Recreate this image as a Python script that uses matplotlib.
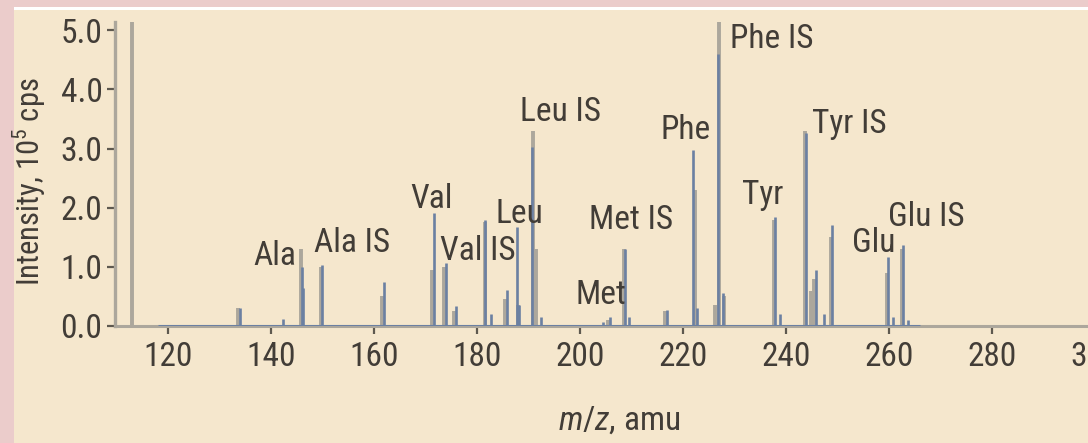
import matplotlib
matplotlib.use("Agg")
import matplotlib.pyplot as plt
from matplotlib import font_manager
from matplotlib.patches import Rectangle

# peak list (m/z, intensity in 10^5 cps)
gray_mz = [113.0, 133.6, 145.8, 149.7, 161.5, 171.3, 173.6, 175.6, 181.5,
           185.5, 187.9, 190.8, 191.4, 205.5, 208.6, 216.5, 222.4, 226.2,
           226.9, 228.0, 237.6, 243.7, 244.9, 245.5, 248.7, 259.7, 262.6]
gray_int = [6.0, 0.30, 1.30, 1.00, 0.50, 0.95, 1.00, 0.25, 1.76,
            0.45, 0.35, 3.29, 1.30, 0.10, 1.30, 0.25, 2.30, 0.35,
            5.30, 0.50, 1.80, 3.30, 0.60, 0.80, 1.50, 0.90, 1.30]

blue_mz = [134.0, 142.3, 146.0, 146.3, 149.9, 161.9, 171.7, 173.9, 175.9,
           181.6, 182.7, 185.8, 187.7, 188.2, 190.7, 192.5, 204.5, 205.8,
           208.7, 209.5, 216.8, 222.0, 222.8, 226.8, 227.8, 237.9, 238.8,
           243.9, 245.8, 247.3, 248.9, 259.9, 260.7, 262.8, 263.6]
blue_int = [0.30, 0.12, 1.00, 0.65, 1.03, 0.75, 1.91, 1.06, 0.33,
            1.79, 0.20, 0.61, 1.68, 0.36, 3.03, 0.15, 0.07, 0.16,
            1.31, 0.15, 0.27, 2.98, 0.30, 4.60, 0.56, 1.85, 0.20,
            3.26, 0.95, 0.20, 1.71, 1.17, 0.15, 1.37, 0.10]
blue_span = [118.0, 266.0]

labels = ["Ala", "Ala IS", "Val", "Val IS", "Leu", "Leu IS", "Met", "Met IS",
          "Phe", "Phe IS", "Tyr", "Tyr IS", "Glu", "Glu IS"]
label_mz = [140.8, 155.7, 171.1, 180.1, 188.3, 196.3, 204.1, 210.0,
            220.6, 237.2, 235.4, 252.3, 257.1, 267.2]
label_int = [1.18, 1.40, 2.14, 1.26, 1.90, 3.61, 0.52, 1.80,
             3.32, 4.85, 2.21, 3.41, 1.40, 1.84]

PINK = "#ebcccb"
CREAM = "#f5e7cd"
GRAY = "#aca79c"
BLUE = "#6b80a2"
TEXT = "#423d37"

# condensed sans, first one that is installed
installed = {f.name for f in font_manager.fontManager.ttflist}
narrow = "DejaVu Sans"
for fam in ["Liberation Sans Narrow", "Arial Narrow", "Roboto Condensed",
            "Archivo Narrow", "PT Sans Narrow", "Asap Condensed", "Open Sans Condensed"]:
    if fam in installed:
        narrow = fam
        break

plt.rcParams['font.family'] = [narrow, 'DejaVu Sans']
plt.rcParams['mathtext.fontset'] = 'custom'
plt.rcParams['mathtext.rm'] = narrow
plt.rcParams['mathtext.it'] = narrow + ':italic'

W, H = 1088, 443
fig = plt.figure(figsize=(W / 100, H / 100), dpi=100, facecolor=PINK)
fig.patches.append(Rectangle((14 / W, 0), 1, (H - 7) / H, transform=fig.transFigure,
                             facecolor="white", edgecolor="none", zorder=-20))
fig.patches.append(Rectangle((14 / W, 0), 1, (H - 10) / H, transform=fig.transFigure,
                             facecolor=CREAM, edgecolor="none", zorder=-10))

# axes runs past the right edge, as in the cropped original
ax = fig.add_axes([115 / W, (H - 326) / H, 1031.5 / W, 304 / H])
ax.set_zorder(1)
ax.set_facecolor("none")
ax.set_xlim(109.7, 310)
ax.set_ylim(0, 5.14)

ax.vlines(gray_mz, 0, gray_int, color=GRAY, linewidth=2.8, zorder=2)
ax.hlines(0, blue_span[0], blue_span[1], color=BLUE, linewidth=2.2, zorder=3)
ax.vlines(blue_mz, 0, blue_int, color=BLUE, linewidth=1.9, zorder=3)

for name, x, y in zip(labels, label_mz, label_int):
    ax.text(x, y, name, ha="center", va="center", fontsize=24, color=TEXT, zorder=4)

for side in ["top", "right"]:
    ax.spines[side].set_visible(False)
ax.spines["left"].set_color(GRAY)
ax.spines["left"].set_linewidth(2.4)
ax.spines["bottom"].set_color(GRAY)
ax.spines["bottom"].set_linewidth(2.2)

ax.set_xticks(range(120, 320, 20))
ax.set_yticks([0, 1, 2, 3, 4, 5])
ax.set_yticklabels([f"{v:.1f}" for v in [0, 1, 2, 3, 4, 5]])
ax.tick_params(axis="both", colors="#5e594f", labelcolor=TEXT, labelsize=24, width=1.6)
ax.tick_params(axis="y", length=6, pad=3)
ax.tick_params(axis="x", length=6, pad=5)

ax.set_xlabel("$m$/$z$, amu", fontsize=24, color=TEXT)
ax.set_ylabel("Intensity, 10$^{5}$ cps", fontsize=22, color=TEXT)
# label anchors: top edge of the x label, right edge of the y label
ax.xaxis.set_label_coords((619 - 115) / 1031.5, -(405 - 326) / 304)
ax.yaxis.set_label_coords(-(115 - 48) / 1031.5, (326 - 182) / 304)

fig.savefig("out.png", dpi=100, facecolor=PINK)
